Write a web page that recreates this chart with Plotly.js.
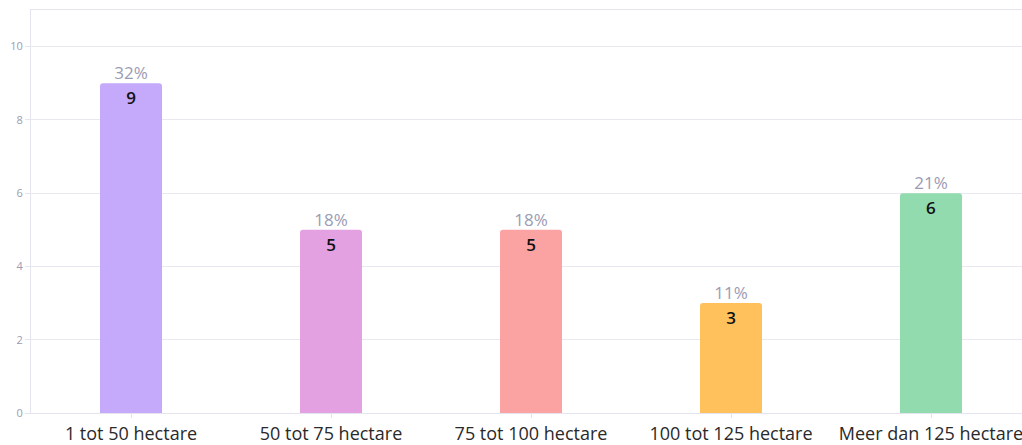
<!DOCTYPE html>
<html>
<head>
<meta charset="utf-8">
<script src="https://cdn.plot.ly/plotly-3.0.1.min.js"></script>
<style>html,body{margin:0;padding:0;overflow:hidden;background:#fff}</style>
</head>
<body>
<div id="chart" style="width:1022px;height:445px"></div>
<script>
const categories = ["1 tot 50 hectare", "50 tot 75 hectare", "75 tot 100 hectare", "100 tot 125 hectare", "Meer dan 125 hectare"];
const counts = [9, 5, 5, 3, 6];
const percents = ["32%", "18%", "18%", "11%", "21%"];
const colors = ["#c5a9fb", "#e3a1e1", "#fba3a3", "#ffc15b", "#91dbaf"];

const bars = {
  type: "bar",
  x: categories,
  y: counts,
  text: counts.map(String),
  textposition: "inside",
  insidetextanchor: "end",
  textangle: 0,
  textfont: {family: "Open Sans, sans-serif", size: 17, color: "#111", weight: 600},
  marker: {color: colors, cornerradius: 3},
  hoverinfo: "none",
  cliponaxis: false
};
const pct = {
  type: "scatter",
  mode: "text",
  x: categories,
  y: counts,
  text: percents,
  textposition: "top center",
  textfont: {family: "Open Sans, sans-serif", size: 17, color: "#9b9bb4"},
  hoverinfo: "none",
  cliponaxis: false
};
const layout = {
  width: 1022, height: 445,
  margin: {l: 31, r: 0, t: 10, b: 32},
  paper_bgcolor: "#fff", plot_bgcolor: "#fff",
  showlegend: false,
  bargap: 0.69,
  font: {family: "Open Sans, sans-serif"},
  xaxis: {
    type: "category",
    range: [-0.5, 4.455],
    showline: true, linecolor: "#e4e4ee", linewidth: 1, mirror: true,
    ticks: "outside", ticklen: 4, tickcolor: "#e4e4ee",
    tickfont: {size: 18, color: "#2a2a2a"},
    showgrid: false, zeroline: false
  },
  yaxis: {
    range: [0, 11],
    dtick: 2, tick0: 0,
    showline: true, linecolor: "#e4e4ee", linewidth: 1,
    ticks: "outside", ticklen: 5, tickcolor: "#e4e4ee",
    tickfont: {size: 11, color: "#9b9bb4"},
    gridcolor: "#e8e8f0", gridwidth: 1,
    zeroline: false
  }
};
Plotly.newPlot("chart", [bars, pct], layout, {staticPlot: true, displayModeBar: false});
</script>
</body>
</html>
